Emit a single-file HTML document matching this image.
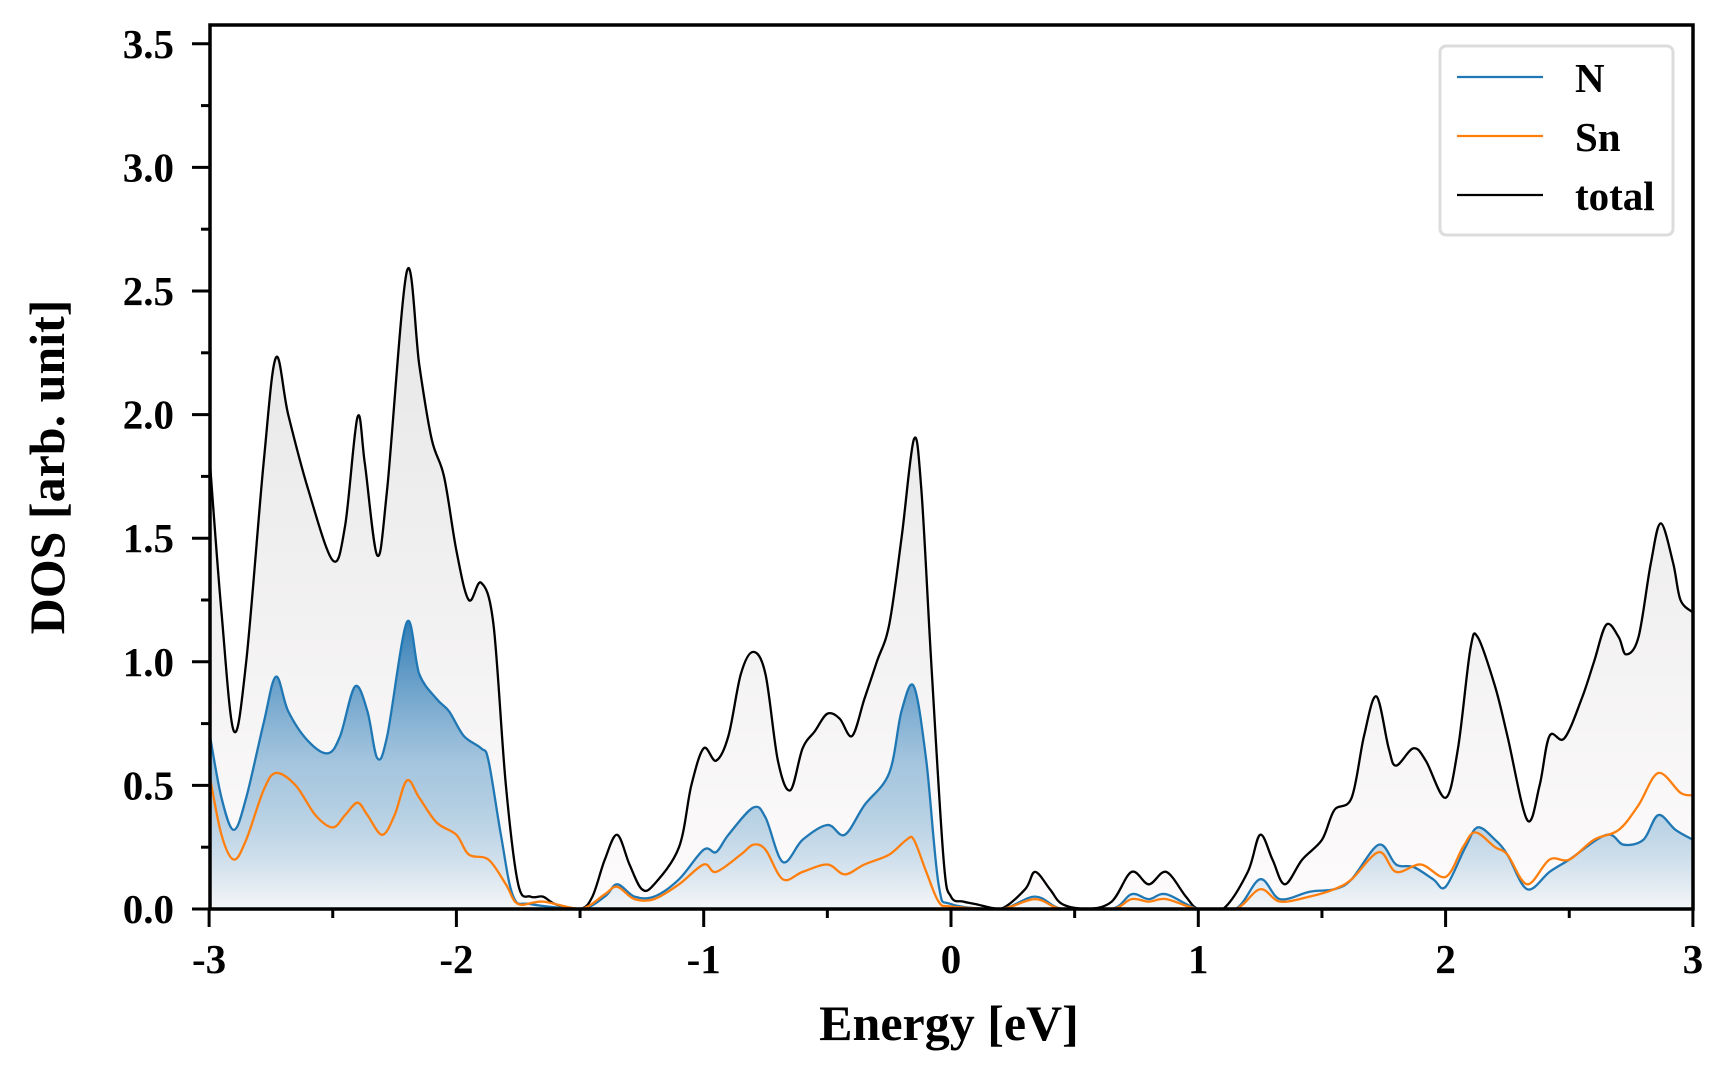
<!DOCTYPE html>
<html><head><meta charset="utf-8">
<style>
html,body{margin:0;padding:0;background:#fff;}
svg{display:block;}
text{font-family:"Liberation Serif",serif;font-weight:bold;fill:#000;}
</style></head>
<body>
<svg id="s" width="1728" height="1080" viewBox="0 0 1728 1080" xmlns="http://www.w3.org/2000/svg">
<defs>
<linearGradient id="gN" gradientUnits="userSpaceOnUse" x1="0" y1="622" x2="0" y2="909">
<stop offset="0" stop-color="#2a78b3" stop-opacity="0.95"/>
<stop offset="0.5" stop-color="#6fa6cf" stop-opacity="0.6"/>
<stop offset="1" stop-color="#1f77b4" stop-opacity="0.03"/>
</linearGradient>
<linearGradient id="gT" gradientUnits="userSpaceOnUse" x1="0" y1="271" x2="0" y2="909">
<stop offset="0" stop-color="#e6e6e6"/>
<stop offset="1" stop-color="#fdfbfb"/>
</linearGradient>
<clipPath id="cp"><rect x="210" y="25" width="1483" height="884"/></clipPath>
</defs>
<g id="plot" clip-path="url(#cp)"></g>
<rect x="210" y="25" width="1483" height="884" fill="none" stroke="#000" stroke-width="3.5"/>
<g id="ticks" stroke="#000" stroke-width="3"></g>
<g id="labels" font-size="41"></g>
<text x="949" y="1040" font-size="50" text-anchor="middle">Energy [eV]</text>
<text transform="translate(64,467) rotate(-90)" font-size="50" text-anchor="middle">DOS [arb. unit]</text>
<rect x="1440" y="46" width="233" height="189" rx="6" fill="#fff" stroke="#dcdcdc" stroke-width="3"/>
<line x1="1457" y1="77" x2="1543" y2="77" stroke="#1f77b4" stroke-width="2.3"/>
<line x1="1457" y1="136" x2="1543" y2="136" stroke="#ff7f0e" stroke-width="2.3"/>
<line x1="1457" y1="195" x2="1543" y2="195" stroke="#000" stroke-width="2.3"/>
<text x="1575" y="92" font-size="41">N</text>
<text x="1575" y="151" font-size="41">Sn</text>
<text x="1575" y="210" font-size="41">total</text>
</svg>
<script>
var X=function(e){return 951+247.3*e;},Y=function(v){return 909-247.2*v;};
var T=[[-3,1.85],[-2.95,1.2],[-2.9,0.72],[-2.85,1.0],[-2.78,1.8],[-2.73,2.23],[-2.68,2.0],[-2.6,1.7],[-2.5,1.41],[-2.45,1.55],[-2.4,1.99],[-2.37,1.8],[-2.32,1.43],[-2.28,1.7],[-2.2,2.58],[-2.15,2.2],[-2.1,1.9],[-2.05,1.75],[-2.0,1.45],[-1.95,1.25],[-1.9,1.32],[-1.85,1.15],[-1.8,0.5],[-1.75,0.1],[-1.7,0.05],[-1.65,0.05],[-1.6,0.02],[-1.5,0],[-1.45,0.05],[-1.4,0.2],[-1.35,0.3],[-1.3,0.18],[-1.25,0.08],[-1.2,0.1],[-1.1,0.25],[-1.05,0.5],[-1.0,0.65],[-0.95,0.6],[-0.9,0.7],[-0.85,0.95],[-0.8,1.04],[-0.75,0.95],[-0.7,0.6],[-0.65,0.48],[-0.6,0.65],[-0.55,0.72],[-0.5,0.79],[-0.45,0.77],[-0.4,0.7],[-0.35,0.85],[-0.3,1.0],[-0.25,1.15],[-0.2,1.5],[-0.15,1.9],[-0.12,1.7],[-0.08,1.0],[-0.03,0.2],[0,0.05],[0.05,0.03],[0.1,0.02],[0.2,0],[0.3,0.08],[0.34,0.15],[0.4,0.08],[0.45,0.02],[0.55,0],[0.65,0.03],[0.73,0.15],[0.8,0.1],[0.87,0.15],[0.95,0.05],[1.0,0],[1.1,0],[1.2,0.15],[1.25,0.3],[1.3,0.2],[1.35,0.1],[1.42,0.2],[1.5,0.28],[1.55,0.4],[1.62,0.45],[1.67,0.7],[1.72,0.86],[1.77,0.65],[1.8,0.58],[1.87,0.65],[1.92,0.6],[2.0,0.45],[2.05,0.65],[2.1,1.05],[2.13,1.1],[2.2,0.9],[2.25,0.7],[2.33,0.36],[2.38,0.5],[2.42,0.7],[2.48,0.69],[2.55,0.85],[2.6,1.0],[2.65,1.15],[2.7,1.1],[2.73,1.03],[2.78,1.1],[2.83,1.4],[2.87,1.56],[2.92,1.4],[2.95,1.25],[3.0,1.2]];
var N=[[-3,0.72],[-2.95,0.45],[-2.9,0.32],[-2.85,0.45],[-2.78,0.75],[-2.73,0.94],[-2.68,0.8],[-2.6,0.68],[-2.52,0.63],[-2.47,0.7],[-2.41,0.9],[-2.36,0.8],[-2.32,0.61],[-2.28,0.7],[-2.2,1.16],[-2.15,0.95],[-2.08,0.85],[-2.03,0.8],[-1.97,0.7],[-1.9,0.65],[-1.87,0.6],[-1.82,0.3],[-1.77,0.05],[-1.7,0.02],[-1.5,0],[-1.4,0.05],[-1.35,0.1],[-1.28,0.05],[-1.2,0.05],[-1.1,0.12],[-1.0,0.24],[-0.95,0.23],[-0.9,0.3],[-0.8,0.41],[-0.75,0.37],[-0.68,0.19],[-0.6,0.28],[-0.5,0.34],[-0.43,0.3],[-0.35,0.42],[-0.25,0.55],[-0.2,0.8],[-0.15,0.9],[-0.1,0.6],[-0.05,0.1],[0,0.02],[0.2,0],[0.34,0.05],[0.45,0],[0.65,0],[0.73,0.06],[0.8,0.04],[0.87,0.06],[1.0,0],[1.15,0],[1.25,0.12],[1.33,0.04],[1.45,0.07],[1.55,0.08],[1.62,0.12],[1.73,0.26],[1.8,0.18],[1.87,0.17],[1.95,0.12],[2.0,0.09],[2.08,0.25],[2.13,0.33],[2.2,0.28],[2.25,0.22],[2.33,0.08],[2.42,0.15],[2.5,0.2],[2.65,0.3],[2.72,0.26],[2.8,0.28],[2.86,0.38],[2.93,0.32],[3.0,0.28]];
var S=[[-3,0.55],[-2.95,0.3],[-2.9,0.2],[-2.85,0.28],[-2.78,0.48],[-2.73,0.55],[-2.65,0.5],[-2.57,0.38],[-2.5,0.33],[-2.45,0.38],[-2.4,0.43],[-2.36,0.38],[-2.3,0.3],[-2.25,0.38],[-2.2,0.52],[-2.15,0.45],[-2.08,0.35],[-2.0,0.3],[-1.95,0.22],[-1.87,0.2],[-1.8,0.1],[-1.75,0.02],[-1.65,0.03],[-1.5,0],[-1.4,0.06],[-1.35,0.09],[-1.28,0.04],[-1.2,0.04],[-1.1,0.1],[-1.0,0.18],[-0.95,0.15],[-0.85,0.22],[-0.8,0.26],[-0.75,0.24],[-0.68,0.12],[-0.6,0.15],[-0.5,0.18],[-0.43,0.14],[-0.35,0.18],[-0.25,0.22],[-0.18,0.28],[-0.15,0.28],[-0.1,0.15],[-0.05,0.03],[0,0.01],[0.2,0],[0.34,0.04],[0.45,0],[0.65,0],[0.73,0.04],[0.8,0.03],[0.87,0.04],[1.0,0],[1.15,0],[1.25,0.08],[1.33,0.03],[1.45,0.05],[1.55,0.08],[1.62,0.12],[1.73,0.23],[1.8,0.15],[1.9,0.18],[2.0,0.13],[2.07,0.25],[2.12,0.31],[2.2,0.25],[2.25,0.22],[2.33,0.1],[2.42,0.2],[2.5,0.2],[2.6,0.28],[2.7,0.32],[2.78,0.42],[2.86,0.55],[2.95,0.47],[3.0,0.46]];
function path(d){var p=d.map(function(a){return [X(a[0]),Y(a[1])];});var s="M"+p[0][0].toFixed(1)+","+p[0][1].toFixed(1);
for(var i=0;i<p.length-1;i++){var p0=p[i-1]||p[i],p1=p[i],p2=p[i+1],p3=p[i+2]||p2;
var c1=[p1[0]+(p2[0]-p0[0])/6,p1[1]+(p2[1]-p0[1])/6],c2=[p2[0]-(p3[0]-p1[0])/6,p2[1]-(p3[1]-p1[1])/6];
c1[1]=Math.min(c1[1],909);c2[1]=Math.min(c2[1],909);
s+="C"+c1[0].toFixed(1)+","+c1[1].toFixed(1)+" "+c2[0].toFixed(1)+","+c2[1].toFixed(1)+" "+p2[0].toFixed(1)+","+p2[1].toFixed(1);}return s;}
var ns="http://www.w3.org/2000/svg";
function el(par,tag,at,txt){var e=document.createElementNS(ns,tag);for(var k in at)e.setAttribute(k,at[k]);if(txt!=null)e.textContent=txt;document.getElementById(par).appendChild(e);}
var pt=path(T),pn=path(N),ps=path(S),close="L"+X(3)+",909L"+X(-3)+",909Z";
el("plot","path",{d:pt+close,fill:"url(#gT)"});
el("plot","path",{d:pn+close,fill:"url(#gN)"});
el("plot","path",{d:pt,fill:"none",stroke:"#000","stroke-width":2.3});
el("plot","path",{d:pn,fill:"none",stroke:"#1f77b4","stroke-width":2.3});
el("plot","path",{d:ps,fill:"none",stroke:"#ff7f0e","stroke-width":2.3});
for(var i=0;i<=14;i++){var v=i*0.25,y=Y(v),maj=i%2==0;el("ticks","line",{x1:210,x2:maj?192:201,y1:y,y2:y});
if(maj)el("labels","text",{x:174,y:y+14,"text-anchor":"end"},v.toFixed(1));}
for(var i=0;i<=12;i++){var e=-3+i*0.5,x=X(e),maj=i%2==0;el("ticks","line",{x1:x,x2:x,y1:909,y2:maj?927:918});
if(maj)el("labels","text",{x:x,y:973,"text-anchor":"middle"},String(e));}
</script>
</body></html>
